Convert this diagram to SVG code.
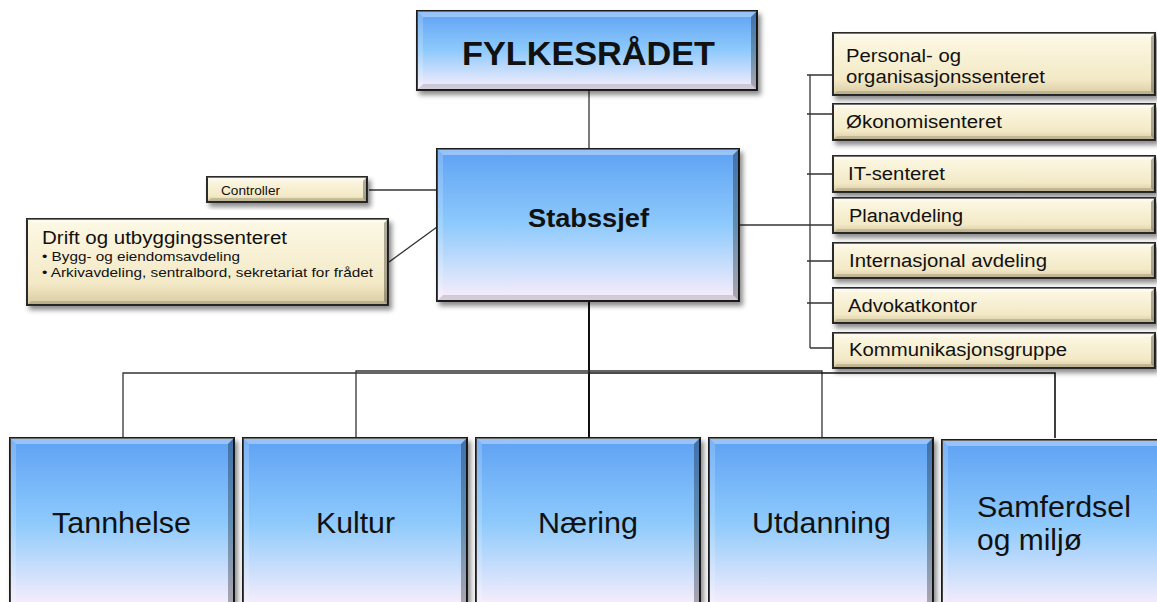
<svg xmlns="http://www.w3.org/2000/svg" width="1157" height="602" viewBox="0 0 1157 602">
<defs>
<linearGradient id="blue" x1="0" y1="0" x2="0" y2="1">
<stop offset="0" stop-color="#5ea1f3"/>
<stop offset="0.5" stop-color="#8ecafc"/>
<stop offset="1" stop-color="#fbeffb"/>
</linearGradient>
<linearGradient id="beige" x1="0" y1="0" x2="0" y2="1">
<stop offset="0" stop-color="#fdf9e6"/>
<stop offset="0.75" stop-color="#f3e9c6"/>
<stop offset="1" stop-color="#d8cba3"/>
</linearGradient>
<filter id="sh" x="-10%" y="-10%" width="130%" height="140%">
<feDropShadow dx="3" dy="4" stdDeviation="2.5" flood-color="#000" flood-opacity="0.45"/>
</filter>
</defs>
<style>
.bb{fill:url(#blue);stroke:#1c1c1c;stroke-width:2;filter:url(#sh)}
.be{fill:url(#beige);stroke:#2a2a2a;stroke-width:2;filter:url(#sh)}
.lt{fill:#ffffff;fill-opacity:0.35}
.lt2{fill:#ffffff;fill-opacity:0.18}
.dk{fill:#000000;fill-opacity:0.3}
.dk2{fill:#000000;fill-opacity:0.14}
.t{font-family:"Liberation Sans",Arial,sans-serif;fill:#111}
.b{font-weight:bold}
.c{fill:none;stroke:#333;stroke-width:1.3}
</style>

<g id="connectors">
<path class="c" d="M589,90 V149"/>
<path class="c" d="M369,190 H437"/>
<path class="c" d="M389,262 L437,227"/>
<path class="c" d="M739,225 H833"/>
<path class="c" d="M810,75 V348"/>
<path class="c" d="M807,75 H833 M807,114 H833 M807,174 H833 M807,261 H833 M807,303 H833 M810,348 H833"/>
<path class="c" d="M589,301 V438" style="stroke:#111;stroke-width:2"/>
<path class="c" d="M123,438 V373 H589"/>
<path class="c" d="M356,438 V371 H589"/>
<path class="c" d="M589,371 H822 V438"/>
<path class="c" d="M589,373 H1055 V438" style="stroke:#111;stroke-width:1.6"/>
</g>

<g id="fylkesradet">
<rect class="bb" x="417" y="11" width="340" height="79"/>
<polygon class="lt" points="417,11 757,11 751,17 423,17"/>
<polygon class="dk" points="757,11 757,90 751,84 751,17"/>
<polygon class="dk2" points="417,90 757,90 751,84 423,84"/>
<polygon class="lt2" points="417,11 423,17 423,84 417,90"/>
<text class="t b" x="462" y="65" font-size="33" textLength="253" lengthAdjust="spacingAndGlyphs">FYLKESRÅDET</text>
</g>

<g id="stabssjef">
<rect class="bb" x="437" y="149" width="302" height="152"/>
<polygon class="lt" points="437,149 739,149 733,155 443,155"/>
<polygon class="dk" points="739,149 739,301 733,295 733,155"/>
<polygon class="dk2" points="437,301 739,301 733,295 443,295"/>
<polygon class="lt2" points="437,149 443,155 443,295 437,301"/>
<text class="t b" x="528" y="227" font-size="26" textLength="121" lengthAdjust="spacingAndGlyphs">Stabssjef</text>
</g>

<g id="controller">
<rect class="be" x="207" y="177" width="160" height="25"/>
<polygon class="lt" points="207,177 367,177 363,181 211,181"/>
<polygon class="dk" points="367,177 367,202 363,198 363,181"/>
<polygon class="dk2" points="207,202 367,202 363,198 211,198"/>
<text class="t" x="221" y="195" font-size="12.5" textLength="59" lengthAdjust="spacingAndGlyphs">Controller</text>
</g>

<g id="drift">
<rect class="be" x="27" y="219" width="361" height="86"/>
<polygon class="lt" points="27,219 388,219 384,223 31,223"/>
<polygon class="dk" points="388,219 388,305 384,301 384,223"/>
<polygon class="dk2" points="27,305 388,305 384,301 31,301"/>
<text class="t" x="42" y="244" font-size="18" textLength="245" lengthAdjust="spacingAndGlyphs">Drift og utbyggingssenteret</text>
<text class="t" x="42" y="261" font-size="13.5" textLength="198" lengthAdjust="spacingAndGlyphs">• Bygg- og eiendomsavdeling</text>
<text class="t" x="42" y="277" font-size="13.5" textLength="331" lengthAdjust="spacingAndGlyphs">• Arkivavdeling, sentralbord, sekretariat for frådet</text>
</g>

<g id="personal">
<rect class="be" x="833" y="33" width="322" height="62"/>
<polygon class="lt" points="833,33 1155,33 1151,37 837,37"/>
<polygon class="dk" points="1155,33 1155,95 1151,91 1151,37"/>
<polygon class="dk2" points="833,95 1155,95 1151,91 837,91"/>
<text class="t" x="846" y="62" font-size="18" textLength="115" lengthAdjust="spacingAndGlyphs">Personal- og</text>
<text class="t" x="846" y="83" font-size="18" textLength="199" lengthAdjust="spacingAndGlyphs">organisasjonssenteret</text>
</g>

<g id="okonomi">
<rect class="be" x="833" y="104" width="322" height="36"/>
<polygon class="lt" points="833,104 1155,104 1151,108 837,108"/>
<polygon class="dk" points="1155,104 1155,140 1151,136 1151,108"/>
<polygon class="dk2" points="833,140 1155,140 1151,136 837,136"/>
<text class="t" x="846" y="128" font-size="18" textLength="156" lengthAdjust="spacingAndGlyphs">Økonomisenteret</text>
</g>

<g id="it">
<rect class="be" x="833" y="156" width="322" height="36"/>
<polygon class="lt" points="833,156 1155,156 1151,160 837,160"/>
<polygon class="dk" points="1155,156 1155,192 1151,188 1151,160"/>
<polygon class="dk2" points="833,192 1155,192 1151,188 837,188"/>
<text class="t" x="848" y="180" font-size="18" textLength="97" lengthAdjust="spacingAndGlyphs">IT-senteret</text>
</g>

<g id="plan">
<rect class="be" x="833" y="198" width="322" height="35"/>
<polygon class="lt" points="833,198 1155,198 1151,202 837,202"/>
<polygon class="dk" points="1155,198 1155,233 1151,229 1151,202"/>
<polygon class="dk2" points="833,233 1155,233 1151,229 837,229"/>
<text class="t" x="849" y="222" font-size="18" textLength="114" lengthAdjust="spacingAndGlyphs">Planavdeling</text>
</g>

<g id="internasjonal">
<rect class="be" x="833" y="243" width="322" height="35"/>
<polygon class="lt" points="833,243 1155,243 1151,247 837,247"/>
<polygon class="dk" points="1155,243 1155,278 1151,274 1151,247"/>
<polygon class="dk2" points="833,278 1155,278 1151,274 837,274"/>
<text class="t" x="849" y="267" font-size="18" textLength="198" lengthAdjust="spacingAndGlyphs">Internasjonal avdeling</text>
</g>

<g id="advokat">
<rect class="be" x="833" y="288" width="322" height="35"/>
<polygon class="lt" points="833,288 1155,288 1151,292 837,292"/>
<polygon class="dk" points="1155,288 1155,323 1151,319 1151,292"/>
<polygon class="dk2" points="833,323 1155,323 1151,319 837,319"/>
<text class="t" x="848" y="312" font-size="18" textLength="129" lengthAdjust="spacingAndGlyphs">Advokatkontor</text>
</g>

<g id="kommunikasjon">
<rect class="be" x="833" y="333" width="322" height="35"/>
<polygon class="lt" points="833,333 1155,333 1151,337 837,337"/>
<polygon class="dk" points="1155,333 1155,368 1151,364 1151,337"/>
<polygon class="dk2" points="833,368 1155,368 1151,364 837,364"/>
<text class="t" x="849" y="356" font-size="18" textLength="218" lengthAdjust="spacingAndGlyphs">Kommunikasjonsgruppe</text>
</g>

<g id="tannhelse">
<rect class="bb" x="10" y="438" width="224" height="170"/>
<polygon class="lt" points="10,438 234,438 228,444 16,444"/>
<polygon class="dk" points="234,438 234,608 228,602 228,444"/>
<polygon class="lt2" points="10,438 16,444 16,602 10,608"/>
<text class="t" x="52" y="533" font-size="29" textLength="139" lengthAdjust="spacingAndGlyphs">Tannhelse</text>
</g>

<g id="kultur">
<rect class="bb" x="243" y="438" width="224" height="170"/>
<polygon class="lt" points="243,438 467,438 461,444 249,444"/>
<polygon class="dk" points="467,438 467,608 461,602 461,444"/>
<polygon class="lt2" points="243,438 249,444 249,602 243,608"/>
<text class="t" x="316" y="533" font-size="29" textLength="79" lengthAdjust="spacingAndGlyphs">Kultur</text>
</g>

<g id="naering">
<rect class="bb" x="476" y="438" width="224" height="170"/>
<polygon class="lt" points="476,438 700,438 694,444 482,444"/>
<polygon class="dk" points="700,438 700,608 694,602 694,444"/>
<polygon class="lt2" points="476,438 482,444 482,602 476,608"/>
<text class="t" x="538" y="533" font-size="29" textLength="100" lengthAdjust="spacingAndGlyphs">Næring</text>
</g>

<g id="utdanning">
<rect class="bb" x="709" y="438" width="224" height="170"/>
<polygon class="lt" points="709,438 933,438 927,444 715,444"/>
<polygon class="dk" points="933,438 933,608 927,602 927,444"/>
<polygon class="lt2" points="709,438 715,444 715,602 709,608"/>
<text class="t" x="752" y="533" font-size="29" textLength="139" lengthAdjust="spacingAndGlyphs">Utdanning</text>
</g>

<g id="samferdsel">
<rect class="bb" x="942" y="440" width="222" height="170"/>
<polygon class="lt" points="942,440 1164,440 1158,446 948,446"/>
<polygon class="lt2" points="942,440 948,446 948,602 942,608"/>
<text class="t" x="977" y="517" font-size="29" textLength="154" lengthAdjust="spacingAndGlyphs">Samferdsel</text>
<text class="t" x="977" y="550" font-size="29" textLength="105" lengthAdjust="spacingAndGlyphs">og miljø</text>
</g>
</svg>
